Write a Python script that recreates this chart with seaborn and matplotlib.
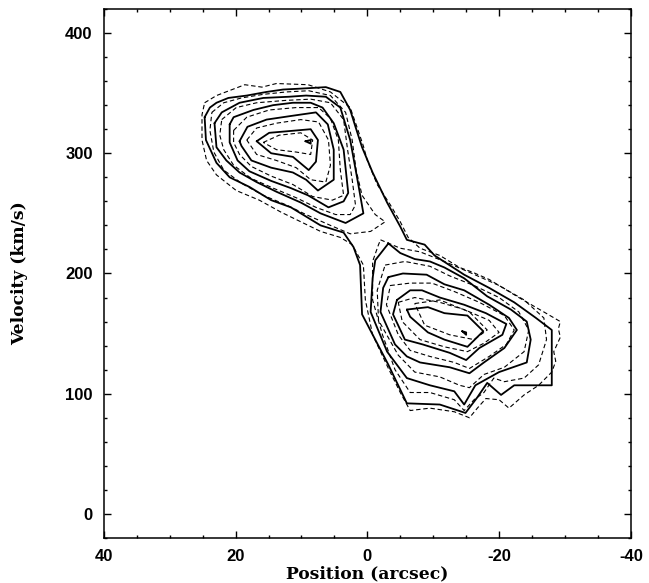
import numpy as np
import pandas as pd
import matplotlib
matplotlib.use("Agg")
import matplotlib.pyplot as plt
from matplotlib.ticker import MultipleLocator
import seaborn as sns

# ---------------- tick labels ----------------
x_ticks = [40, 20, 0, -20, -40]
x_tick_labels = ["40", "20", "0", "-20", "-40"]
y_ticks = [0, 100, 200, 300, 400]
y_tick_labels = ["0", "100", "200", "300", "400"]

# ---------------- model contours (solid) ----------------
# outermost contour enclosing both lobes
m1_pos = [24.7, 23.9, 22.9, 21.1, 18.3, 15.3, 12.8, 9.3, 6.3, 4.1, 2.6, 1.8, 0.8, -0.8, -3.0,
          -5.0, -6.0, -8.7, -10.2, -14.7, -18.5, -22.3, -25.6, -28.0, -28.0, -22.3, -20.3, -18.2,
          -16.7, -14.9, -11.0, -6.0, -3.2, 0.8, 1.1, 2.1, 3.6, 7.1, 11.6, 14.6, 17.9, 20.9, 22.9, 24.5]
m1_vel = [330, 338, 342, 346, 348, 351, 353, 354, 355, 351, 336, 322, 305, 284, 259,
          239, 228, 224, 215, 199, 188, 176, 163, 153, 107, 107, 99, 109,
          97, 84, 91, 92, 124, 166, 207, 222, 234, 240, 255, 261, 272, 280, 292, 311]

m2u_pos = [23.2, 22.1, 19.4, 15.8, 11.9, 9.3, 6.3, 4.1, 2.6, 1.4, 0.6, 3.3, 7.1, 10.1, 13.8, 16.8, 19.4, 21.4, 22.9]
m2u_vel = [325, 334, 342, 346, 347, 348, 347, 338, 311, 275, 250, 242, 250, 259, 268, 276, 284, 294, 305]
m3u_pos = [20.9, 20.3, 17.3, 14.3, 11.3, 8.6, 6.8, 5.1, 3.6, 2.9, 3.6, 5.9, 9.0, 11.6, 14.6, 17.9, 19.7, 20.9]
m3u_vel = [324, 330, 336, 340, 342, 342, 338, 325, 303, 267, 260, 255, 265, 271, 277, 285, 294, 309]
m4u_pos = [19.4, 18.2, 15.3, 11.6, 7.8, 6.0, 5.1, 5.1, 7.5, 9.3, 11.3, 14.6, 17.6, 19.1]
m4u_vel = [310, 322, 328, 331, 334, 324, 303, 278, 269, 278, 284, 288, 294, 306]
m5u_pos = [16.8, 14.9, 8.6, 7.5, 7.8, 8.9, 11.3, 14.6]
m5u_vel = [310, 317, 320, 311, 293, 286, 297, 300]
m6u_pos = [9.4, 8.6, 8.6]
m6u_vel = [310, 311, 308]

m2l_pos = [-3.2, -5.0, -7.2, -9.5, -11.7, -14.7, -18.2, -21.8, -24.2, -24.8, -24.2, -20.0, -16.4, -14.7,
           -13.2, -9.5, -6.0, -3.0, -0.5, -0.8, -1.2]
m2l_vel = [225, 217, 212, 210, 205, 196, 181, 170, 160, 145, 126, 118, 107, 91,
           102, 107, 113, 135, 168, 196, 211]
m3l_pos = [-3.2, -5.4, -9.0, -11.7, -14.7, -18.5, -21.5, -22.7, -20.8, -17.7, -15.5, -12.5, -8.0, -6.0, -4.2, -2.0, -2.4]
m3l_vel = [197, 200, 199, 191, 186, 174, 163, 153, 138, 126, 117, 122, 126, 131, 141, 168, 188]
m4l_pos = [-4.5, -6.5, -8.3, -11.0, -14.7, -18.0, -21.1, -20.5, -17.0, -15.0, -12.5, -8.4, -5.7, -3.9]
m4l_vel = [178, 186, 186, 180, 174, 167, 158, 149, 138, 128, 134, 141, 145, 166]
m5l_pos = [-6.0, -9.2, -11.7, -15.2, -17.6, -15.2, -11.7, -9.2, -6.5]
m5l_vel = [170, 172, 167, 165, 152, 139, 145, 151, 164]
m6l_pos = [-14.4, -15.0, -15.0]
m6l_vel = [152, 151, 149]

# ---------------- observed contours (dashed) ----------------
d1_pos = [24.7, 22.9, 18.6, 16.0, 13.8, 9.0, 5.6, 2.6, 1.4, 0.6, 0.0, -1.5, -2.2, -3.5, -5.0, -6.2, -8.0, -11.0,
          -14.0, -16.0, -18.5, -23.0, -26.8, -29.3, -29.0, -29.3, -28.3, -28.6, -28.0, -26.0, -23.8, -21.5, -20.0, -18.0,
          -16.7, -15.5, -13.2, -9.5, -6.5, -5.0, -3.2, -0.8, 0.3, 0.6, 2.3, 4.1, 7.1, 10.1, 13.1,
          16.4, 19.9, 22.9, 24.4, 25.1, 25.1]
d1_vel = [342, 348, 357, 355, 358, 357, 351, 338, 319, 306, 294, 274, 268, 257, 243, 230, 221, 215,
          205, 201, 195, 180, 168, 160, 154, 147, 135, 127, 118, 107, 99, 88, 95, 96,
          88, 80, 85, 88, 86, 101, 121, 149, 178, 207, 224, 230, 235, 243, 251,
          261, 269, 282, 294, 311, 332]
d2u_pos = [23.6, 21.8, 19.1, 15.8, 12.3, 8.9, 5.6, 3.3, 2.3, 1.7, 0.8, -1.2, -2.7, -0.5, 2.6, 5.6,
           9.3, 12.3, 15.8, 19.1, 21.8, 23.3, 23.9]
d2u_vel = [334, 342, 346, 349, 351, 352, 348, 334, 311, 286, 265, 249, 243, 235, 233, 240,
           249, 257, 265, 275, 286, 301, 319]
d2l_pos = [-2.0, -5.0, -8.0, -11.7, -15.5, -20.0, -23.8, -26.8, -27.2, -26.0, -23.8, -20.8, -19.2,
           -17.7, -16.2, -14.7, -13.2, -9.5, -6.5, -4.2, -2.3, -0.8, -0.8, -1.7]
d2l_vel = [228, 221, 218, 210, 201, 190, 178, 163, 145, 124, 113, 110, 113,
           101, 95, 86, 95, 101, 101, 120, 149, 178, 210, 224]
d3u_pos = [22.1, 19.9, 16.8, 12.3, 8.6, 5.6, 3.6, 3.0, 2.3, 1.8, 2.6, 4.8, 7.8, 10.8, 14.3, 17.6, 20.3, 21.8, 22.4]
d3u_vel = [328, 338, 342, 344, 345, 342, 328, 303, 278, 257, 249, 249, 255, 263, 271, 279, 290, 303, 315]
d3l_pos = [-2.7, -5.7, -9.5, -12.5, -16.2, -20.0, -23.0, -24.5, -23.8, -20.8, -17.7, -15.5, -14.0,
           -11.0, -7.2, -4.7, -1.7, -1.5]
d3l_vel = [207, 210, 206, 198, 190, 180, 168, 153, 135, 122, 116, 105, 107,
           114, 118, 132, 161, 186]
d4u_pos = [20.3, 18.3, 14.9, 10.8, 7.4, 5.6, 4.4, 4.1, 3.6, 5.3, 8.3, 11.3, 14.6, 17.6, 19.4, 20.3]
d4u_vel = [319, 330, 336, 338, 338, 329, 311, 286, 265, 261, 264, 274, 281, 289, 299, 309]
d4l_pos = [-3.5, -6.5, -9.8, -13.2, -17.0, -20.8, -22.3, -21.1, -18.5, -15.5, -13.2, -9.5, -6.5, -4.7, -2.9]
d4l_vel = [190, 192, 192, 185, 176, 165, 153, 141, 131, 121, 126, 131, 136, 149, 174]
d5u_pos = [18.3, 16.8, 13.8, 10.1, 7.4, 5.9, 5.6, 6.3, 8.6, 10.8, 13.8, 16.8]
d5u_vel = [311, 321, 325, 328, 326, 311, 290, 276, 278, 288, 294, 299]
d5l_pos = [-4.7, -7.2, -11.0, -14.7, -18.5, -20.0, -17.7, -15.2, -11.7, -8.0, -5.3]
d5l_vel = [176, 180, 176, 170, 161, 151, 142, 135, 139, 145, 160]
d6u_pos = [15.8, 13.4, 10.1, 8.3, 8.6, 10.8, 13.8]
d6u_vel = [309, 315, 317, 311, 299, 301, 303]
d6l_pos = [-7.2, -11.0, -15.5, -18.2, -16.2, -12.5, -8.7]
d6l_vel = [175, 178, 168, 153, 145, 149, 157]

model_contours = [(m1_pos, m1_vel), (m2u_pos, m2u_vel), (m3u_pos, m3u_vel), (m4u_pos, m4u_vel),
                  (m5u_pos, m5u_vel), (m6u_pos, m6u_vel), (m2l_pos, m2l_vel), (m3l_pos, m3l_vel),
                  (m4l_pos, m4l_vel), (m5l_pos, m5l_vel), (m6l_pos, m6l_vel)]
data_contours = [(d1_pos, d1_vel), (d2u_pos, d2u_vel), (d2l_pos, d2l_vel), (d3u_pos, d3u_vel),
                 (d3l_pos, d3l_vel), (d4u_pos, d4u_vel), (d4l_pos, d4l_vel), (d5u_pos, d5u_vel),
                 (d5l_pos, d5l_vel), (d6u_pos, d6u_vel), (d6l_pos, d6l_vel)]


def to_frame(contours):
    rows = []
    for cid, (p, v) in enumerate(contours):
        pp = list(p) + [p[0]]
        vv = list(v) + [v[0]]
        for k, (a, b) in enumerate(zip(pp, vv)):
            rows.append({"cid": cid, "order": k, "pos": a, "vel": b})
    return pd.DataFrame(rows)


df_model = to_frame(model_contours)
df_data = to_frame(data_contours)

sns.set_theme(style="white")
plt.rcParams["font.family"] = ["DejaVu Sans"]

fig = plt.figure(figsize=(6.49, 5.83), dpi=100)
ax = fig.add_axes([0.160, 0.0772, 0.812, 0.9074])

sns.lineplot(data=df_data, x="pos", y="vel", units="cid", estimator=None, sort=False,
             color="black", linewidth=0.8, dashes=False, ax=ax, legend=False)
for line in ax.lines:
    line.set_dashes((4.0, 2.5))
sns.lineplot(data=df_model, x="pos", y="vel", units="cid", estimator=None, sort=False,
             color="black", linewidth=1.3, ax=ax, legend=False)

ax.set_xlim(40, -40)
ax.set_ylim(-20, 420)
ax.set_xticks(x_ticks)
ax.set_xticklabels(x_tick_labels)
ax.set_yticks(y_ticks)
ax.set_yticklabels(y_tick_labels)
ax.xaxis.set_minor_locator(MultipleLocator(5))
ax.yaxis.set_minor_locator(MultipleLocator(20))
ax.tick_params(which="both", direction="in", top=True, right=True, bottom=True, left=True,
               color="black", width=1.0)
ax.tick_params(which="major", length=5, pad=8)
ax.tick_params(which="minor", length=2.5)
for lab in ax.get_xticklabels() + ax.get_yticklabels():
    lab.set_fontfamily("Liberation Sans")
    lab.set_fontweight("bold")
    lab.set_fontsize(12)
    lab.set_color("black")
for s in ax.spines.values():
    s.set_visible(True)
    s.set_color("black")
    s.set_linewidth(1.1)
ax.grid(False)

ax.set_xlabel("Position (arcsec)", fontfamily="DejaVu Serif", fontweight="bold",
              fontsize=12.3, color="black", labelpad=1)
ax.set_ylabel("Velocity (km/s)", fontfamily="DejaVu Serif", fontweight="bold",
              fontsize=12.3, color="black", labelpad=27)

fig.savefig("out.png", dpi=100, facecolor="white")
